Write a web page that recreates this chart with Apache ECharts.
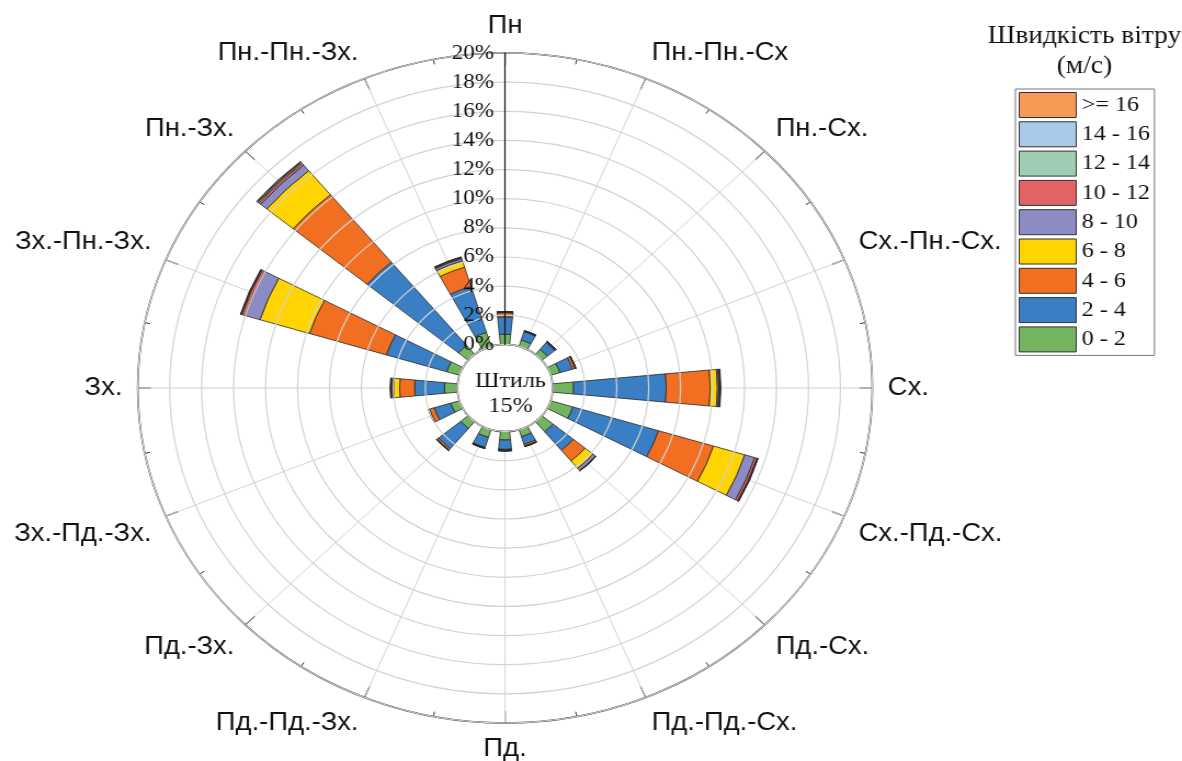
<!DOCTYPE html>
<html>
<head>
<meta charset="utf-8">
<script src="https://cdn.jsdelivr.net/npm/echarts@6/dist/echarts.min.js"></script>
<style>
  html, body { margin: 0; padding: 0; background: #fff; overflow: hidden; }
  /* the reference is stretched horizontally, so the whole chart is scaled in x */
  #chart { width: 1078px; height: 761px; transform: scaleX(1.0965); transform-origin: 0 0; }
</style>
</head>
<body>
<div id="chart"></div>
<script>
// напрямки вітру (за годинниковою стрілкою від півночі)
const directions = ['Пн', 'Пн.-Пн.-Сх', 'Пн.-Сх.', 'Сх.-Пн.-Сх.', 'Сх.', 'Сх.-Пд.-Сх.', 'Пд.-Сх.', 'Пд.-Пд.-Сх.',
  'Пд.', 'Пд.-Пд.-Зх.', 'Пд.-Зх.', 'Зх.-Пд.-Зх.', 'Зх.', 'Зх.-Пн.-Зх.', 'Пн.-Зх.', 'Пн.-Пн.-Зх.'];

// повторюваність, % для кожного класу швидкості
const speed0_2   = [0.70, 0.45, 0.45, 0.60, 1.30, 1.45, 0.90, 0.50, 0.58, 0.55, 0.60, 0.56, 0.80, 0.82, 0.80, 1.00];
const speed2_4   = [1.20, 0.60, 0.60, 0.83, 5.80, 5.60, 1.65, 0.55, 0.64, 0.72, 1.80, 1.09, 1.87, 3.96, 7.40, 3.30];
const speed4_6   = [0.28, 0.04, 0.05, 0.17, 2.75, 3.60, 0.95, 0.12, 0.03, 0.03, 0.12, 0.30, 0.94, 5.03, 6.00, 1.38];
const speed6_8   = [0.04, 0.01, 0.02, 0.02, 0.45, 2.05, 0.65, 0.02, 0.03, 0.02, 0.02, 0.03, 0.37, 3.24, 2.13, 0.46];
const speed8_10  = [0.02, 0.01, 0.01, 0.01, 0.10, 0.65, 0.20, 0.01, 0.02, 0.01, 0.01, 0.02, 0.10, 0.98, 0.50, 0.15];
const speed10_12 = [0.01, 0, 0, 0, 0.04, 0.15, 0.02, 0, 0.01, 0.01, 0, 0.01, 0.05, 0.20, 0.15, 0.06];
const speed12_14 = [0.01, 0, 0, 0, 0.03, 0.04, 0.01, 0, 0.01, 0.01, 0, 0.01, 0.03, 0.05, 0.08, 0.03];
const speed14_16 = [0, 0, 0, 0, 0.02, 0.02, 0, 0, 0.01, 0, 0, 0, 0.02, 0.03, 0.05, 0.02];
const speed16    = [0, 0, 0, 0, 0.03, 0.01, 0, 0, 0.01, 0, 0, 0, 0.02, 0.02, 0.05, 0.02];

const classNames = ['0 - 2', '2 - 4', '4 - 6', '6 - 8', '8 - 10', '10 - 12', '12 - 14', '14 - 16', '>= 16'];
const classData = [speed0_2, speed2_4, speed4_6, speed6_8, speed8_10, speed10_12, speed12_14, speed14_16, speed16];
const classColors = ['#74b35f', '#3a7fc3', '#f26f22', '#ffd400', '#8b8cc4', '#e36363', '#9fcdb4', '#a9c9e8', '#f79a55'];

const calmText = 'Штиль\n15%';
const legendTitle = 'Швидкість вітру\n(м/с)';

const center = [460.6, 388];
const radius = [43.6, 335];

const chart = echarts.init(document.getElementById('chart'));

const series = classNames.map((name, i) => ({
  name: name,
  type: 'bar',
  coordinateSystem: 'polar',
  polarIndex: 0,
  stack: 'rose',
  data: classData[i],
  barCategoryGap: '51%',
  itemStyle: { color: classColors[i], borderColor: '#2a2a2a', borderWidth: 0.8 },
  emphasis: { disabled: true }
}));

chart.setOption({
  animation: false,
  title: [
    {
      text: legendTitle,
      left: 984, top: 16, textAlign: 'center',
      textStyle: { fontFamily: 'Liberation Serif', fontSize: 25, fontWeight: 'normal', color: '#111', lineHeight: 30 }
    },
    {
      text: calmText,
      left: center[0], top: 364, textAlign: 'center',
      textStyle: { fontFamily: 'Liberation Serif', fontSize: 22, fontWeight: 'normal', color: '#111', lineHeight: 25 }
    }
  ],
  legend: {
    orient: 'vertical',
    left: 926, top: 89,
    data: classNames.slice().reverse(),
    icon: 'rect',
    itemWidth: 52, itemHeight: 25, itemGap: 3.3,
    padding: [3, 4, 3, 3],
    borderColor: '#777', borderWidth: 1,
    itemStyle: { borderColor: '#333', borderWidth: 1 },
    textStyle: { fontFamily: 'Liberation Serif', fontSize: 22, color: '#111' },
    selectedMode: false
  },
  polar: [
    { center: center, radius: radius },
    { center: center, radius: radius }
  ],
  angleAxis: [
    {
      polarIndex: 0,
      type: 'category',
      data: directions,
      startAngle: 90 + 11.25,
      clockwise: true,
      axisLine: { show: false },
      axisTick: { show: false },
      splitLine: { show: false },
      axisLabel: { interval: 0, margin: 14, fontFamily: 'Liberation Sans', fontSize: 25, color: '#111' }
    },
    {
      polarIndex: 1,
      type: 'value',
      min: 0, max: 360, interval: 22.5,
      startAngle: 90,
      clockwise: true,
      axisLine: { lineStyle: { color: '#333', width: 1.6 } },
      axisTick: { show: true, inside: true, length: 12, lineStyle: { color: '#222', width: 1.2 } },
      minorTick: { show: true, splitNumber: 2, length: 5, lineStyle: { color: '#333' } },
      splitLine: { show: true, lineStyle: { color: '#d2d2d2', width: 1 } },
      axisLabel: { show: false }
    }
  ],
  radiusAxis: [
    {
      polarIndex: 0,
      type: 'value', min: 0, max: 20, interval: 2,
      axisLine: { show: false }, axisTick: { show: false },
      axisLabel: { show: false }, splitLine: { show: false }
    },
    {
      polarIndex: 1,
      type: 'value', min: 0, max: 20, interval: 2,
      z: 10,
      axisLine: { lineStyle: { color: '#111', width: 1.2 } },
      axisTick: { show: false },
      axisLabel: { formatter: '{value}%', margin: 10, fontFamily: 'Liberation Serif', fontSize: 21, color: '#111' },
      splitLine: { show: true, lineStyle: { color: '#d2d2d2', width: 1.2 } }
    }
  ],
  series: series
});
</script>
</body>
</html>
